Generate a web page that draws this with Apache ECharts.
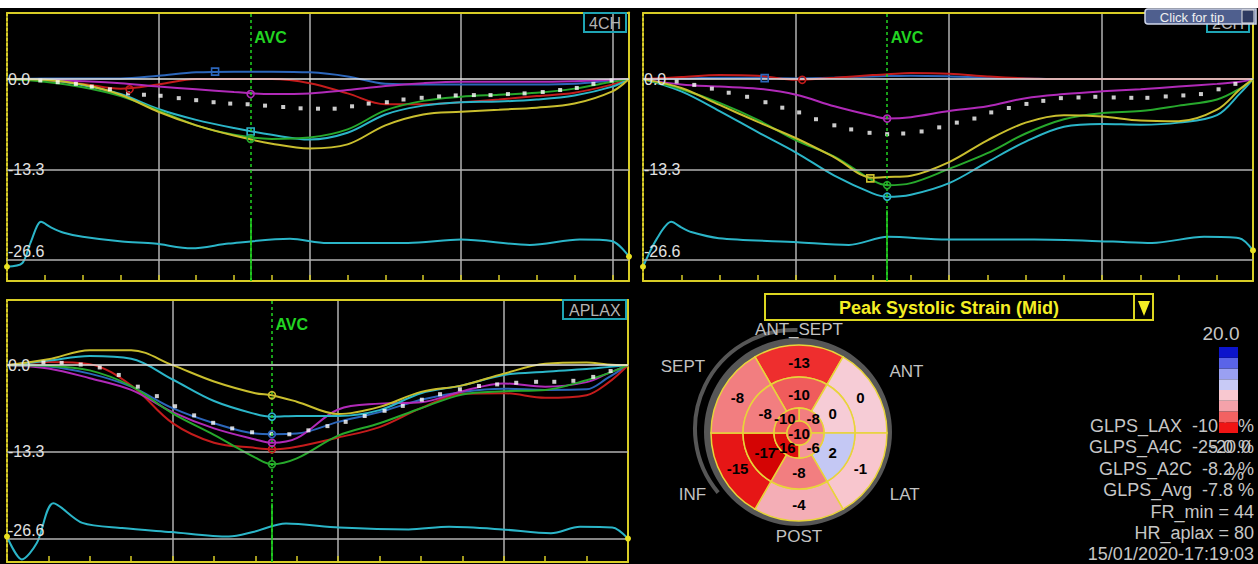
<!DOCTYPE html>
<html>
<head>
<meta charset="utf-8">
<script src="https://cdn.jsdelivr.net/npm/echarts@6/dist/echarts.min.js"></script>
<style>
html,body{margin:0;padding:0;background:#000;overflow:hidden;}
#chart{width:1258px;height:564px;}
</style>
</head>
<body>
<div id="chart"></div>
<script>
// ======================= DATA =======================
const strainTicks = [0, -13.3, -26.6];

// ---- 4CH ----
const x4CH       = [0, 50, 100, 150, 200, 250, 300, 350, 400, 450, 500, 550, 600, 650, 700, 750, 800, 822];
const blue4CH    = [0, 0.1, 0.1, 0.1, 0.5, 1.0, 1.1, 1.1, 1.0, 0.4, -0.7, -0.8, -0.8, -0.8, -0.8, -0.7, -0.2, 0];
const red4CH     = [0, -0.2, -0.7, -1.4, -0.8, 0, 0, 0, -0.6, -2.1, -3.7, -3.7, -3.4, -3.0, -2.5, -2.0, -0.8, 0];
const magenta4CH = [0, -0.1, -0.3, -0.6, -1.1, -1.5, -1.9, -2.2, -2.1, -1.6, -1.0, -0.6, -0.4, -0.4, -0.4, -0.3, -0.1, 0];
const cyan4CH    = [0, -0.1, -0.9, -2.2, -4.4, -6.0, -7.2, -8.2, -8.9, -7.9, -5.2, -3.9, -3.4, -3.3, -3.0, -2.4, -1.1, 0];
const green4CH   = [0, -0.4, -1.2, -2.5, -4.6, -6.8, -8.2, -8.8, -8.6, -7.4, -4.6, -3.2, -2.6, -2.3, -2.0, -1.4, -0.4, 0];
const yellow4CH  = [0, -0.1, -0.8, -2.3, -4.8, -6.8, -8.3, -9.5, -10.2, -9.6, -6.8, -5.2, -4.8, -4.5, -4.2, -3.6, -1.8, 0];
const peaks4CH   = [[275, 1.1], [162, -1.5], [322, -2.2], [322, -7.7], [322, -8.8], null];
const avgX4CH    = [44, 67, 91, 112, 136, 160, 181, 203, 227, 250, 273, 295, 318, 341, 365, 388, 411, 433, 456, 478, 502, 524, 548, 571, 593, 617, 639, 662, 684, 708, 731, 753, 775, 799];
const avg4CH     = [-0.2, -0.45, -0.7, -1.1, -1.5, -2.1, -2.3, -2.45, -2.8, -3.1, -3.4, -3.6, -3.7, -3.9, -4.1, -4.3, -4.35, -4.35, -4.0, -3.6, -3.4, -3.0, -2.75, -2.55, -2.4, -2.35, -2.35, -2.2, -2.1, -1.9, -1.6, -1.3, -0.7, -0.2];
const ecgX4CH    = [0, 20, 31, 45, 58, 75, 100, 152, 195, 244, 293, 374, 423, 530, 600, 691, 757, 799, 822];
const ecg4CH     = [-27.6, -27.1, -24.1, -21.0, -21.8, -22.6, -23.2, -23.9, -24.2, -24.9, -24.2, -23.5, -24.1, -24.1, -23.6, -24.4, -23.6, -23.8, -26.1];
const avc4CH     = 322;

// ---- 2CH ----
const x2CH       = [0, 50, 100, 150, 200, 250, 300, 319, 350, 400, 450, 500, 550, 600, 650, 700, 750, 780, 797];
const blue2CH    = [0, 0.1, 0.2, 0.2, 0.1, 0.2, 0.4, 0.45, 0.5, 0.4, 0.2, 0.1, 0, 0, 0, 0, 0, 0, 0];
const red2CH     = [0, 0.3, 0.6, 0.5, -0.1, 0.2, 0.6, 0.7, 0.9, 0.8, 0.4, 0.1, 0, 0, 0, 0, 0, 0, 0];
const magenta2CH = [0, -0.8, -1.1, -1.4, -2.3, -4.0, -5.4, -5.8, -5.6, -4.7, -4.0, -2.8, -2.2, -1.8, -1.5, -1.1, -0.7, -0.4, 0];
const cyan2CH    = [0, -1.8, -4.7, -7.8, -10.8, -14.2, -16.8, -17.3, -17.0, -15.3, -12.2, -9.2, -7.0, -6.6, -6.7, -6.4, -5.3, -2.1, 0];
const green2CH   = [0, -1.5, -3.5, -6.0, -9.0, -11.4, -14.9, -15.6, -15.3, -13.2, -10.9, -8.0, -5.9, -5.0, -4.7, -3.9, -3.0, -1.4, 0];
const yellow2CH  = [0, -1.3, -3.8, -6.3, -8.7, -11.5, -14.5, -14.4, -14.2, -12.2, -9.0, -6.4, -5.3, -5.5, -6.1, -6.2, -4.5, -1.5, 0];
const peaks2CH   = [[159, 0.15], [208, -0.1], [319, -5.8], [319, -17.3], [319, -15.6], [297, -14.6]];
const avgX2CH    = [44, 67, 90, 112, 136, 160, 182, 204, 226, 250, 272, 296, 319, 340, 364, 387, 410, 433, 455, 478, 501, 523, 546, 569, 591, 615, 638, 659, 683, 706, 729, 752, 774];
const avg2CH     = [-0.35, -0.85, -1.4, -2.0, -2.6, -3.4, -4.2, -4.9, -5.9, -6.8, -7.4, -7.9, -8.1, -8.0, -7.7, -7.1, -6.4, -5.8, -4.9, -4.25, -3.65, -3.2, -2.8, -2.7, -2.6, -2.7, -2.75, -2.75, -2.55, -2.4, -2.2, -1.5, -0.7];
const ecgX2CH    = [0, 18, 37, 50, 63, 99, 202, 269, 320, 397, 511, 614, 665, 733, 779, 797];
const ecg2CH     = [-27.6, -23.5, -21.0, -21.8, -22.5, -23.4, -24.0, -24.4, -23.2, -23.6, -23.6, -23.9, -24.1, -23.2, -23.4, -25.2];
const avc2CH     = 319;

// ---- APLAX ----
const xAPLAX       = [0, 50, 100, 150, 200, 250, 300, 320, 350, 400, 450, 500, 550, 600, 650, 700, 725, 750];
const blueAPLAX    = [0, -0.2, -1.3, -3.3, -6.6, -8.9, -10.5, -10.6, -10.5, -8.7, -7.2, -5.3, -4.1, -3.6, -3.8, -3.7, -2.0, 0];
const redAPLAX     = [0, 0.5, 0.15, -3.1, -8.9, -11.9, -12.7, -12.9, -12.5, -11.1, -9.5, -6.6, -4.4, -4.3, -5.0, -4.6, -2.8, 0];
const magentaAPLAX = [0, -0.5, -2.0, -3.8, -7.2, -9.7, -11.4, -11.9, -11.2, -6.8, -5.9, -5.7, -4.0, -2.8, -3.3, -2.6, -1.3, 0];
const cyanAPLAX    = [0, 0.7, 1.4, 1.0, -2.2, -5.5, -7.5, -7.9, -7.8, -7.8, -6.9, -4.3, -3.1, -1.5, -1.0, -0.6, -0.3, 0];
const greenAPLAX   = [0, -0.1, -0.8, -3.2, -7.4, -10.7, -14.2, -15.2, -14.3, -10.8, -8.9, -6.6, -4.5, -4.0, -3.8, -2.3, -1.3, 0];
const yellowAPLAX  = [0, 0.9, 2.3, 2.3, 0, -2.5, -4.3, -4.6, -5.6, -7.5, -6.4, -4.1, -3.1, -1.3, 0.2, 0.4, 0.1, 0];
const peaksAPLAX   = [[320, -10.6], [320, -12.9], [320, -11.9], [320, -7.9], [320, -15.2], [320, -4.6]];
const avgXAPLAX    = [44, 66, 89, 112, 135, 158, 181, 203, 226, 249, 272, 296, 319, 341, 364, 387, 409, 432, 456, 478, 501, 523, 547, 570, 592, 615, 639, 661, 684, 708, 729];
const avgAPLAX     = [0.4, 0.35, 0.1, -0.35, -1.5, -3.3, -4.75, -6.3, -7.7, -8.85, -9.7, -10.3, -10.5, -10.6, -10.0, -9.35, -8.7, -7.8, -7.0, -6.25, -5.3, -4.45, -3.7, -3.2, -2.95, -2.7, -2.55, -2.55, -2.4, -1.8, -0.9];
const ecgXAPLAX    = [0, 18, 36, 56, 91, 139, 198, 268, 297, 337, 401, 485, 534, 598, 657, 692, 731, 750];
const ecgAPLAX     = [-26.3, -29.8, -27.3, -21.2, -24.2, -25.0, -25.6, -26.3, -25.6, -24.3, -24.9, -25.2, -24.8, -25.2, -25.8, -24.8, -24.9, -26.6];
const avcAPLAX     = 320;

// ---- Bull's eye (peak systolic strain, %) ----
const segNames      = ['ANT_SEPT', 'ANT', 'LAT', 'POST', 'INF', 'SEPT'];
const basalStrain   = [-13, 0, -1, -4, -15, -8];
const midStrain     = [-10, 0, 2, -8, -17, -8];
const apicalStrain  = [-8, -6, -16, -10];
const apexStrain    = [-10];
const colorbarTicks = [-20, -15, -10, -5, 0, 5, 10, 15, 20];
const statLines     = ['GLPS_LAX  -10.6 %', 'GLPS_A4C  -25.0 %', 'GLPS_A2C  -8.2 %', 'GLPS_Avg  -7.8 %', 'FR_min = 44', 'HR_aplax = 80', '15/01/2020-17:19:03'];

// ======================= STYLE / LAYOUT =======================
const FONT = '"Liberation Sans", Arial, Helvetica, sans-serif';
const YEL = '#d8cd26';
const AVC_GREEN = '#22d422';
const COL = {blue:'#2c66ba', red:'#c41c1c', magenta:'#b02ab8', cyan:'#2bb5c8', green:'#27a82c', yellow:'#c9be2e'};
const curveKeys = ['blue', 'red', 'magenta', 'cyan', 'green', 'yellow'];

const panels = [
  {name:'4CH', grid:{left:7, top:12.5, width:622, height:268.5}, xMax:822, yMin:-29.7, yMax:9.8,
   x:x4CH, curves:[blue4CH, red4CH, magenta4CH, cyan4CH, green4CH, yellow4CH], peaks:peaks4CH,
   shapes:['rect','circle','circle','rect','circle','rect'],
   avgX:avgX4CH, avgY:avg4CH, ecgX:ecgX4CH, ecgY:ecg4CH, avc:avc4CH, avcSolid:-20.5,
   title:{left:584, top:13, padding:[2,5,1,5]}},
  {name:'2CH', grid:{left:643, top:12.5, width:610, height:268.5}, xMax:797, yMin:-29.7, yMax:9.8,
   x:x2CH, curves:[blue2CH, red2CH, magenta2CH, cyan2CH, green2CH, yellow2CH], peaks:peaks2CH,
   shapes:['rect','circle','circle','circle','circle','rect'],
   avgX:avgX2CH, avgY:avg2CH, ecgX:ecgX2CH, ecgY:ecg2CH, avc:avc2CH, avcSolid:-19.3,
   title:{left:1207, top:13, padding:[2,5,1,5]}},
  {name:'APLAX', grid:{left:7, top:300, width:621, height:262}, xMax:750, yMin:-30.2, yMax:10,
   x:xAPLAX, curves:[blueAPLAX, redAPLAX, magentaAPLAX, cyanAPLAX, greenAPLAX, yellowAPLAX], peaks:peaksAPLAX,
   shapes:['circle','circle','circle','circle','circle','circle'],
   avgX:avgXAPLAX, avgY:avgAPLAX, ecgX:ecgXAPLAX, ecgY:ecgAPLAX, avc:avcAPLAX, avcSolid:-21.2,
   title:{left:563, top:300, padding:[2,6,1,6]}}
];

const option = {backgroundColor:'#000', animation:false, grid:[], xAxis:[], yAxis:[], series:[], title:[]};

panels.forEach((p, k) => {
  option.grid.push(Object.assign({show:false, outerBoundsMode:'none'}, p.grid));
  const hidden = {axisTick:{show:false}, axisLabel:{show:false}, splitLine:{show:false}};
  option.xAxis.push({gridIndex:k, type:'value', min:0, max:p.xMax, interval:200, position:'bottom',
    axisLine:{show:true, onZero:false, lineStyle:{color:YEL, width:2}},
    axisTick:{show:true, inside:true, length:6, lineStyle:{color:YEL, width:1.5}},
    minorTick:{show:true, splitNumber:4, length:6, lineStyle:{color:YEL, width:1.5}},
    axisLabel:{show:false},
    splitLine:{show:true, showMinLine:false, showMaxLine:false, lineStyle:{color:'#b2b2b2', width:1.5}}});
  option.xAxis.push(Object.assign({gridIndex:k, type:'value', min:0, max:p.xMax, position:'top',
    axisLine:{show:true, onZero:false, lineStyle:{color:YEL, width:2}}}, hidden));
  option.yAxis.push(Object.assign({gridIndex:k, type:'value', min:p.yMin, max:p.yMax, position:'left',
    axisLine:{show:true, onZero:false, lineStyle:{color:YEL, width:2, type:[3,2]}}}, hidden));
  option.yAxis.push(Object.assign({gridIndex:k, type:'value', min:p.yMin, max:p.yMax, position:'right',
    axisLine:{show:true, onZero:false, lineStyle:{color:YEL, width:2}}}, hidden));
  const xi = 2 * k, yi = 2 * k;
  const n = p.ecgX.length;
  option.series.push({
    type:'line', xAxisIndex:xi, yAxisIndex:yi, silent:true, z:2,
    data:p.ecgX.map((x, i) => [x, p.ecgY[i]]), smooth:0.3, showSymbol:false,
    lineStyle:{color:COL.cyan, width:2},
    markLine:{silent:true, symbol:['none','none'], animation:false,
      data:[
        ...strainTicks.map((v, j) => ({yAxis:v,
          lineStyle:{color: v === 0 ? '#e6e6e6' : '#b2b2b2', width:1.5, type:'solid'},
          label:{show:true, position:'insideStartTop', distance:1, offset:[0, j === 2 ? 1 : 9],
                 formatter:v.toFixed(1), color:'#e2e2e2', fontSize:16, fontFamily:FONT}})),
        {xAxis:p.avc, lineStyle:{color:AVC_GREEN, width:1.5, type:[3,3]}, label:{show:false}},
        [{coord:[p.avc, p.avcSolid], lineStyle:{color:AVC_GREEN, width:1.5, type:'solid'}, label:{show:false}},
         {coord:[p.avc, p.yMin]}]
      ]},
    markPoint:{silent:true, animation:false,
      data:[
        {coord:[p.avc, p.yMax - (p.yMax - p.yMin) * 0.094], symbol:'circle', symbolSize:1,
         itemStyle:{color:'rgba(0,0,0,0)'},
         label:{show:true, position:'right', distance:3, formatter:'AVC', color:AVC_GREEN,
                fontWeight:'bold', fontSize:16, fontFamily:FONT}},
        {coord:[p.ecgX[0], p.ecgY[0]], symbol:'circle', symbolSize:6, itemStyle:{color:'#e8e020'}, label:{show:false}},
        {coord:[p.ecgX[n-1], p.ecgY[n-1]], symbol:'circle', symbolSize:6, itemStyle:{color:'#e8e020'}, label:{show:false}}
      ]}
  });
  p.curves.forEach((arr, j) => {
    const c = COL[curveKeys[j]];
    const s = {type:'line', xAxisIndex:xi, yAxisIndex:yi, silent:true, z:3,
      data:p.x.map((x, i) => [x, arr[i]]), smooth:0.35, showSymbol:false,
      lineStyle:{color:c, width:2}};
    if (p.peaks[j]) {
      s.markPoint = {silent:true, animation:false, symbol:p.shapes[j], symbolSize:7,
        itemStyle:{color:'rgba(0,0,0,0)', borderColor:c, borderWidth:1.6}, label:{show:false},
        data:[{coord:p.peaks[j]}]};
    }
    option.series.push(s);
  });
  option.series.push({type:'scatter', xAxisIndex:xi, yAxisIndex:yi, silent:true, z:4,
    data:p.avgX.map((x, i) => [x, p.avgY[i]]), symbol:'rect', symbolSize:4,
    itemStyle:{color:'#ffffff'}});
  option.title.push(Object.assign({text:p.name, borderColor:'#1fa4b4', borderWidth:2,
    textStyle:{color:'#b4b4b4', fontSize:16, fontWeight:'normal', fontFamily:FONT}}, p.title));
});

// ---- Bull's eye ----
const bullRings = [basalStrain, midStrain, apicalStrain, apexStrain];
const RING_R = [[56, 88], [25, 56], [12, 25], [0, 12]];
const RING_OFF = [-30, -30, 0, 0];
const LABEL_R = [71, 39, 20, 0];
const NAME_R = [104, 124, 122, 103, 123, 134];
const strainStops = [[-20,'#c00000'],[-17,'#d40404'],[-15,'#e61616'],[-13,'#ee2e2e'],[-10,'#f05c5c'],[-8,'#f27e80'],
  [-4,'#f4aeb6'],[-1,'#f8c6ce'],[0,'#f6ccd6'],[2,'#c4c8f4'],[5,'#a8b0f2'],[10,'#6a74ea'],[15,'#3040e0'],[20,'#0000c8']];
function mix(a, b, t) {
  const pa = [1,3,5].map(i => parseInt(a.substr(i,2),16)), pb = [1,3,5].map(i => parseInt(b.substr(i,2),16));
  return 'rgb(' + pa.map((v, i) => Math.round(v + (pb[i] - v) * t)).join(',') + ')';
}
function strainColor(v) {
  for (let i = 0; i < strainStops.length - 1; i++) {
    const [v0, c0] = strainStops[i], [v1, c1] = strainStops[i+1];
    if (v >= v0 && v <= v1) return mix(c0, c1, (v - v0) / (v1 - v0));
  }
  return v < 0 ? strainStops[0][1] : strainStops[strainStops.length-1][1];
}
const bullItems = [];
bullRings.forEach((vals, r) => vals.forEach((v, s) => bullItems.push([r, s, v])));

// dark grey rim behind the bull's eye (decorative ring, drawn by a pie)
option.series.push({type:'pie', silent:true, z:1, center:[798, 432], radius:[86, 94], startAngle:90,
  label:{show:false}, labelLine:{show:false}, itemStyle:{color:'#565656', borderWidth:0},
  data:[{value:1, name:'rim'}]});

option.grid.push({left:699, top:333, width:200, height:200, show:false, outerBoundsMode:'none'});
option.xAxis.push({gridIndex:3, type:'value', min:-100, max:100, show:false});
option.yAxis.push({gridIndex:3, type:'value', min:-100, max:100, show:false});
option.series.push({
  type:'custom', coordinateSystem:'cartesian2d', xAxisIndex:6, yAxisIndex:6, silent:true, z:2, clip:false,
  data:bullItems,
  renderItem(params, api) {
    const r = api.value(0), s = api.value(1), v = api.value(2);
    const nSeg = bullRings[r].length;
    const c = api.coord([0, 0]);
    const k = api.size([1, 1])[0];
    const a0 = RING_OFF[r] + s * 360 / nSeg, a1 = a0 + 360 / nSeg;
    const rad = a => (a - 90) * Math.PI / 180;
    const children = [{type:'sector', shape:{cx:c[0], cy:c[1], r0:RING_R[r][0]*k, r:RING_R[r][1]*k,
        startAngle:rad(a0), endAngle:rad(a1), clockwise:true},
      style:{fill:strainColor(v), stroke:'#e8d43a', lineWidth:1.5}, z2:1}];
    const am = rad((a0 + a1) / 2), lr = LABEL_R[r] * k;
    children.push({type:'text', x:c[0] + lr * Math.cos(am), y:c[1] + lr * Math.sin(am), z2:10,
      style:{text:String(v), fill:'#000', font:'bold 15px ' + FONT, align:'center', verticalAlign:'middle'}});
    if (r === 0) {
      const nr = NAME_R[s] * k;
      children.push({type:'text', x:c[0] + nr * Math.cos(am), y:c[1] + nr * Math.sin(am), z2:10,
        style:{text:segNames[s], fill:'#c2c2c2', font:'17px ' + FONT, align:'center', verticalAlign:'middle'}});
    }
    return {type:'group', children};
  }
});

// ---- Colour bar ----
const cbColors = ['#f01414', '#f26262', '#f4a2aa', '#f8c8d0', '#c8caf6', '#9aa0f2', '#5a64e8', '#0c14cc'];
option.grid.push({left:1219, top:347, width:19, height:86, show:false, outerBoundsMode:'none'});
option.xAxis.push({gridIndex:4, type:'value', min:0, max:1, show:false});
option.yAxis.push({gridIndex:4, type:'value', min:-20, max:20, show:false});
option.series.push({
  type:'custom', coordinateSystem:'cartesian2d', xAxisIndex:7, yAxisIndex:7, silent:true, z:5,
  data:colorbarTicks.slice(0, -1).map((lo, i) => [lo, colorbarTicks[i+1]]),
  renderItem(params, api) {
    const p0 = api.coord([0, api.value(1)]), p1 = api.coord([1, api.value(0)]);
    return {type:'rect', shape:{x:p0[0], y:p0[1], width:p1[0]-p0[0], height:p1[1]-p0[1]},
      style:{fill:cbColors[params.dataIndex]}};
  }
});

// ---- decorations and text ----
const statEls = statLines.map((t, i) => ({type:'text', x:1254, y:426 + i * 21.4, z:1,
  style:{text:t, fill:'#c6c6c6', font:'18px ' + FONT, align:'right', verticalAlign:'middle'}}));
option.graphic = {elements:[
  {type:'rect', shape:{x:0, y:0, width:1258, height:8}, style:{fill:'#ffffff'}, z:1},
  {type:'arc', shape:{cx:794, cy:429, r:99, startAngle:140 * Math.PI / 180, endAngle:272 * Math.PI / 180, clockwise:true},
   style:{fill:'none', stroke:'#565656', lineWidth:4}, z:0},
  {type:'rect', shape:{x:765, y:294, width:388, height:26}, style:{fill:'#000', stroke:'#dcd620', lineWidth:2}, z:1},
  {type:'line', shape:{x1:1134, y1:294, x2:1134, y2:320}, style:{stroke:'#dcd620', lineWidth:2}, z:1},
  {type:'polygon', shape:{points:[[1138,301],[1150,301],[1144,316]]}, style:{fill:'#f4ee24'}, z:1},
  {type:'text', x:949, y:307.5, z:1, style:{text:'Peak Systolic Strain (Mid)', fill:'#f4ee24', font:'bold 18px ' + FONT, align:'center', verticalAlign:'middle'}},
  {type:'text', x:1221, y:333, z:1, style:{text:colorbarTicks[colorbarTicks.length-1].toFixed(1), fill:'#c6c6c6', font:'19px ' + FONT, align:'center', verticalAlign:'middle'}},
  ...statEls,
  {type:'text', x:1251, y:447.4, z:6, style:{text:colorbarTicks[0].toFixed(1), fill:'#c6c6c6', font:'18px ' + FONT, align:'right', verticalAlign:'middle'}},
  {type:'text', x:1236, y:474, z:6, style:{text:'%', fill:'#c6c6c6', font:'18px ' + FONT, align:'center', verticalAlign:'middle'}},
  {type:'rect', shape:{x:1145, y:9, width:111, height:15, r:[3,0,0,3]}, style:{fill:'#4f5f8e', stroke:'#cfd6ea', lineWidth:1.5}, z:50},
  {type:'rect', shape:{x:1242, y:10, width:12, height:13}, style:{fill:'#2e3a60', stroke:'#e6e6e6', lineWidth:1}, z:51},
  {type:'text', x:1192, y:17, z:52, style:{text:'Click for tip', fill:'#f0f0f0', font:'13px ' + FONT, align:'center', verticalAlign:'middle'}}
]};

const chart = echarts.init(document.getElementById('chart'), null, {renderer:'svg', width:1258, height:564});
chart.setOption(option);
</script>
</body>
</html>
